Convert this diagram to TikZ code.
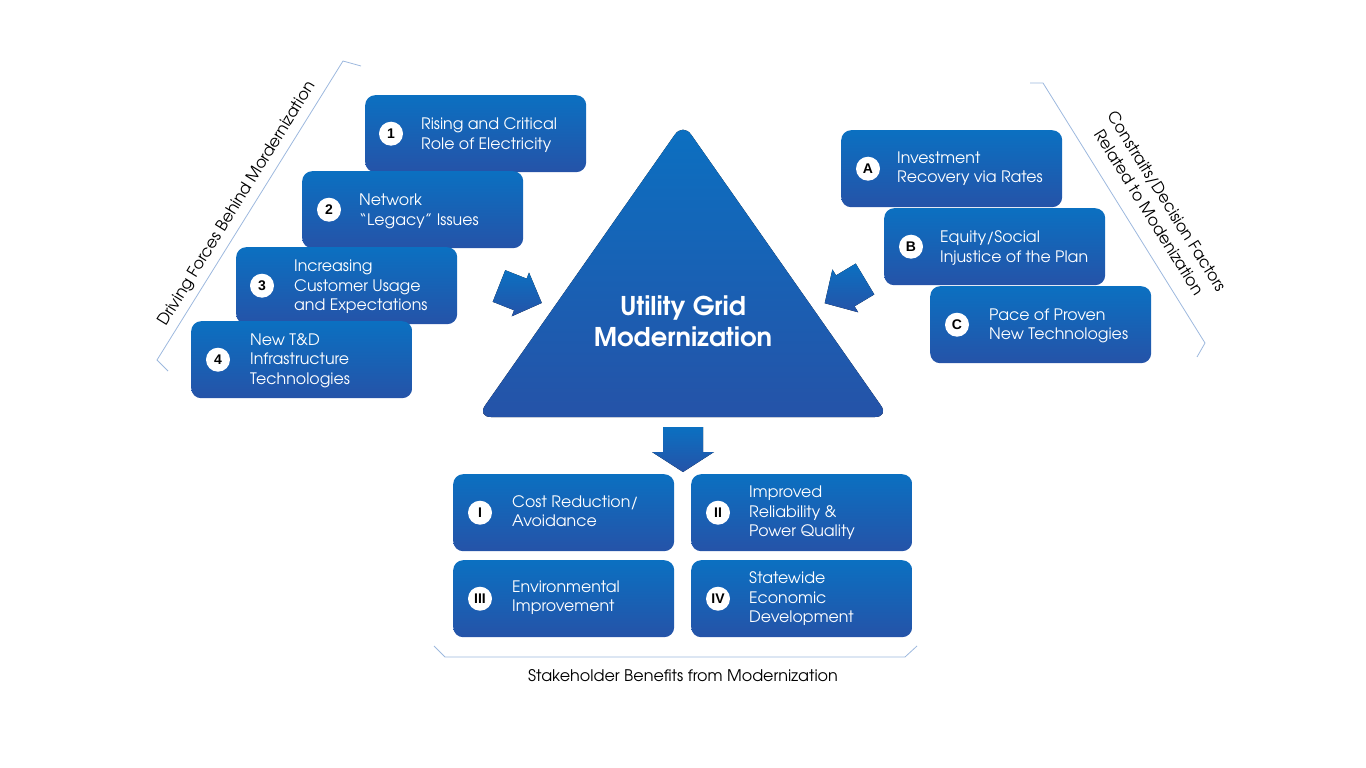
\documentclass[tikz,border=0pt]{standalone}
\usepackage{fontspec}
\setmainfont{TeX Gyre Adventor}
\newfontfamily\numfont{Liberation Sans}
\usetikzlibrary{calc}
\definecolor{btop}{HTML}{0B70C1}
\definecolor{bbot}{HTML}{2553A8}
\definecolor{brk}{HTML}{9DB8DE}
\begin{document}
\begin{tikzpicture}[x=1pt,y=-1pt,
 box/.style={rounded corners=10pt, top color=btop, bottom color=bbot, draw=none, minimum width=221pt, minimum height=77pt, anchor=north west, inner sep=0pt},
 num/.style={circle, fill=white, minimum size=24pt, inner sep=0pt, font=\numfont\bfseries\fontsize{14}{14}\selectfont},
 txt/.style={anchor=west, align=left, text=white, font=\fontsize{15.8}{19.5}\selectfont, inner sep=0pt},
 bigarrow/.style={top color=btop, bottom color=bbot, draw=none},
 brack/.style={draw=brk, line width=0.8pt},
 lbl/.style={font=\fontsize{16}{21}\selectfont, align=center, inner sep=0pt}]
\useasboundingbox (0,0) rectangle (1366,768);
% triangle
\fill[top color=btop, bottom color=bbot, rounded corners=14pt] (683,123) -- (889,417) -- (477,417) -- cycle;
\node[text=white, font=\bfseries\fontsize{25.8}{31}\selectfont, align=center] (title) at (683,321) {Utility Grid\\Modernization};
% side arrows
\begin{scope}[shift={(499,286)}, rotate=-21.6]
\fill[bigarrow] (0,-17) -- (23,-17) -- (23,-23.5) -- (46,0) -- (23,23.5) -- (23,17) -- (0,17) -- cycle;
\end{scope}
\begin{scope}[shift={(865,279)}, rotate=211]
\fill[bigarrow] (0,-18) -- (23,-18) -- (23,-25) -- (47,0) -- (23,25) -- (23,18) -- (0,18) -- cycle;
\end{scope}
% down arrow
\fill[bigarrow] (663,427) -- (703,427) -- (703,452) -- (714,452) -- (683,472) -- (652,452) -- (663,452) -- cycle;
% left boxes
\node[box] (b1) at (365,95) {};
\node[num] (n1) at ($(b1.west)+(26,0)$) {1};
\node[txt] (t1) at ($(b1.west)+(56,1.5)$) {Rising and Critical\\Role of Electricity};
\node[box] (b2) at (302,171) {};
\node[num] (n2) at ($(b2.west)+(27,0)$) {2};
\node[txt] (t2) at ($(b2.west)+(57,1.5)$) {Network\\“Legacy” Issues};
\node[box] (b3) at (236,247) {};
\node[num] (n3) at ($(b3.west)+(26,0)$) {3};
\node[txt] (t3) at ($(b3.west)+(58,1)$) {Increasing\\Customer Usage\\and Expectations};
\node[box] (b4) at (191,321) {};
\node[num] (n4) at ($(b4.west)+(27,0)$) {4};
\node[txt] (t4) at ($(b4.west)+(59,1)$) {New T\&D\\Infrastructure\\Technologies};
% right boxes
\node[box] (bA) at (841,130) {};
\node[num] (nA) at ($(bA.west)+(27,0)$) {A};
\node[txt] (tA) at ($(bA.west)+(56,0)$) {Investment\\Recovery via Rates};
\node[box] (bB) at (884,208) {};
\node[num] (nB) at ($(bB.west)+(27,0)$) {B};
\node[txt] (tB) at ($(bB.west)+(56,1.5)$) {Equity/Social\\Injustice of the Plan};
\node[box] (bC) at (930,286) {};
\node[num] (nC) at ($(bC.west)+(27,0)$) {C};
\node[txt] (tC) at ($(bC.west)+(59,1)$) {Pace of Proven\\New Technologies};
% bottom boxes
\node[box] (bI) at (453,474) {};
\node[num] (nI) at ($(bI.west)+(27,0)$) {I};
\node[txt] (tI) at ($(bI.west)+(59,-1.5)$) {Cost Reduction/\\Avoidance};
\node[box] (bII) at (691,474) {};
\node[num] (nII) at ($(bII.west)+(27,0)$) {II};
\node[txt] (tII) at ($(bII.west)+(58,0)$) {Improved\\Reliability \&\\Power Quality};
\node[box] (bIII) at (453,560) {};
\node[num] (nIII) at ($(bIII.west)+(27,0)$) {III};
\node[txt] (tIII) at ($(bIII.west)+(59,-1)$) {Environmental\\Improvement};
\node[box] (bIV) at (691,560) {};
\node[num] (nIV) at ($(bIV.west)+(27,0)$) {IV};
\node[txt] (tIV) at ($(bIV.west)+(58,0)$) {Statewide\\Economic\\Development};
% brackets
\draw[brack] (361,66) -- (343,61) -- (157,360) -- (168,371);
\draw[brack] (1030,83) -- (1043,83) -- (1205,343) -- (1197,357);
\draw[brack] (434,646) -- (445,657) -- (905,657) -- (917,646);
\node[lbl, rotate=58.3] (lL) at (237,204) {Driving Forces Behind Mordernization};
\node[lbl, rotate=-58] (lR) at (1158,207) {Constraits/Decision Factors\\Related to Modenization};
\node[lbl] (lB) at (683,676) {Stakeholder Benefits from Modernization};
\end{tikzpicture}
\end{document}
